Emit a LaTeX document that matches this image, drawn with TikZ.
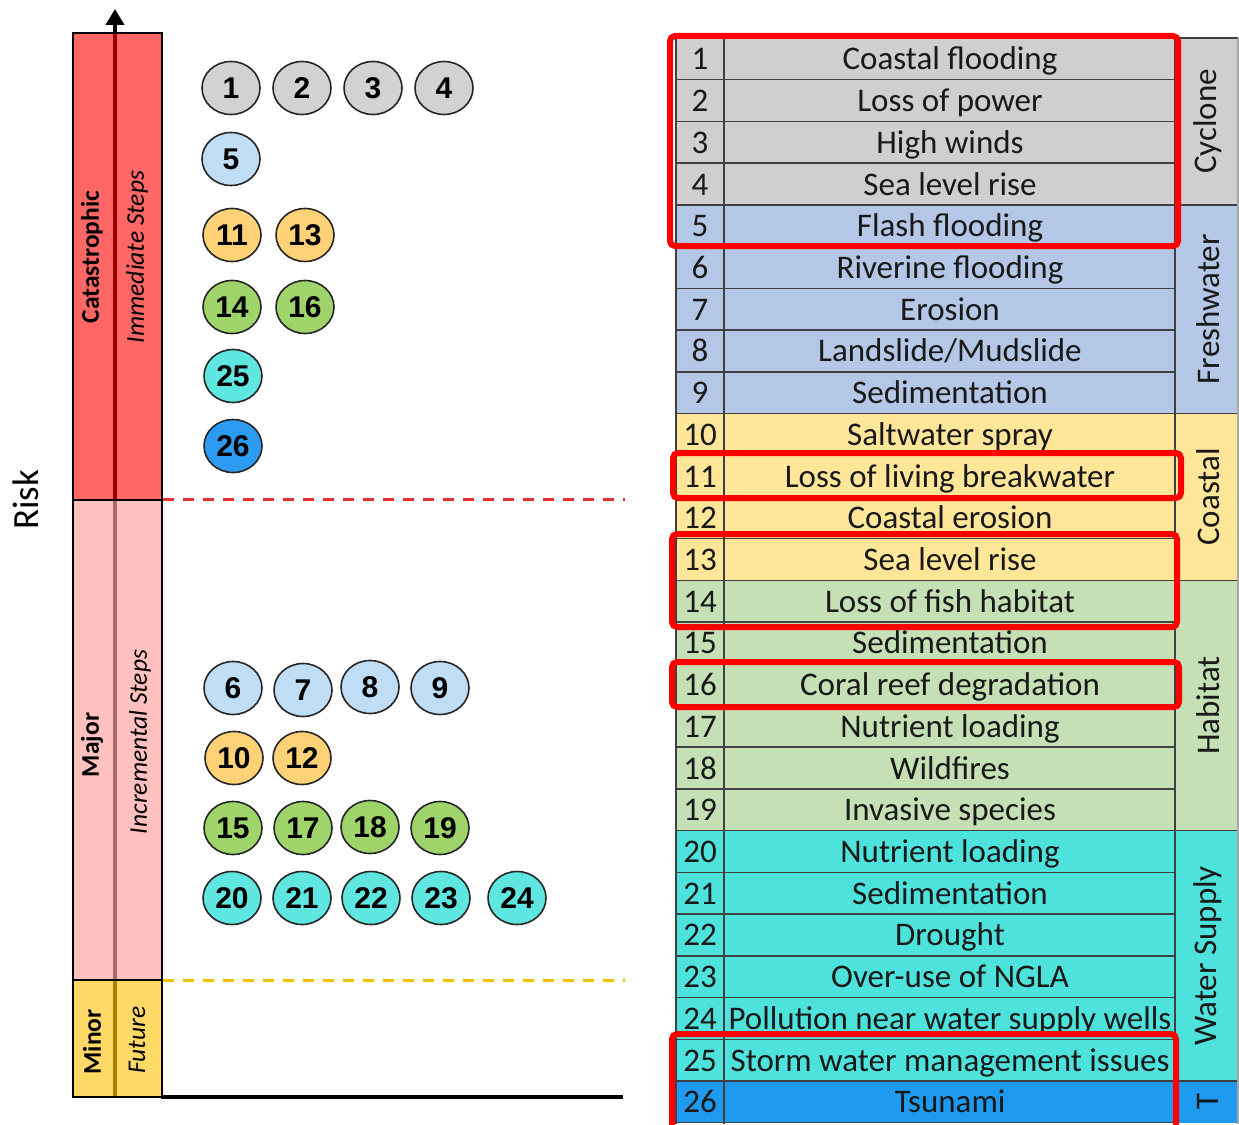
\documentclass[tikz,border=0pt]{standalone}
\usepackage{fontspec}
\setmainfont{Carlito}
\newfontfamily\arialfont{Liberation Sans}
\usetikzlibrary{arrows.meta,shapes.geometric}
\definecolor{cgray}{HTML}{D0CECE}
\definecolor{cblue}{HTML}{B4C7E7}
\definecolor{cyell}{HTML}{FFE699}
\definecolor{cgreen}{HTML}{C5E0B4}
\definecolor{ccyan}{HTML}{4EE2DC}
\definecolor{ctsu}{HTML}{1E9BF0}
\definecolor{kgray}{HTML}{D2D2D2}
\definecolor{kblue}{HTML}{BFDDF4}
\definecolor{korange}{HTML}{FFD278}
\definecolor{kgreen}{HTML}{9ED46A}
\definecolor{kcyan}{HTML}{60E6E0}
\definecolor{ktsu}{HTML}{2E9BF2}
\definecolor{barred}{HTML}{FF6666}
\definecolor{barpink}{HTML}{FFC0C0}
\definecolor{baryel}{HTML}{FFD966}
\definecolor{lred}{HTML}{9A0000}
\definecolor{lpink}{HTML}{A66A6A}
\definecolor{lyel}{HTML}{A38200}
\definecolor{dashred}{HTML}{E83030}
\definecolor{dashyel}{HTML}{F2C200}
\definecolor{hlred}{HTML}{FF0000}
\tikzset{
  risk/.style={ellipse, draw=black!85, line width=1.6, minimum width=58, minimum height=53, inner sep=0,
    font=\arialfont\bfseries\fontsize{30}{30}\selectfont},
  cell/.style={font=\fontsize{33}{33}\selectfont, inner sep=0, anchor=base, text=black!90},
  cat/.style={font=\fontsize{33}{33}\selectfont, rotate=90, inner sep=0, text=black!90},
  barlab/.style={font=\bfseries\fontsize{25.5}{25.5}\selectfont, rotate=90, inner sep=0},
  barit/.style={font=\itshape\fontsize{25.5}{25.5}\selectfont, rotate=90, inner sep=0},
  tline/.style={draw=black!75, line width=1.5},
  hl/.style={draw=hlred, line width=6, rounded corners=5},
}
\begin{document}
\begin{tikzpicture}[x=1pt,y=-1pt]
\useasboundingbox[fill=white] (0,0) rectangle (1239,1124);
% ---------- left bar ----------
\fill[barred] (73,33) rectangle (162,500);
\fill[barpink] (73,500) rectangle (162,980);
\fill[baryel] (73,980) rectangle (162,1097);
\draw[lred, line width=4] (115,33) -- (115,500);
\draw[lpink, line width=4] (115,500) -- (115,980);
\draw[lyel, line width=4] (115,980) -- (115,1097);
\coordinate (arrbase) at (115,33);
\coordinate (arrtip) at (115,9);
\draw[line width=4, -{Triangle[length=16,width=18]}] (arrbase) -- (arrtip);
\draw[black, line width=2] (73,33) rectangle (162,1097);
\draw[black, line width=2] (73,500) -- (162,500);
\draw[black, line width=2] (73,980) -- (162,980);
% axis
\coordinate (ax0) at (161,1097);
\coordinate (ax1) at (623,1097);
\draw[line width=4] (ax0) -- (ax1);
\coordinate (rd0) at (163,499);
\coordinate (rd1) at (625,499);
\draw[dashred, line width=3, dash pattern=on 11 off 9] (rd0) -- (rd1);
\coordinate (yd0) at (163,980);
\coordinate (yd1) at (625,980);
\draw[dashyel, line width=3, dash pattern=on 11 off 9] (yd0) -- (yd1);
% bar labels
\node[barlab] (lcat) at (92,257) {Catastrophic};
\node[barit] (limm) at (137,257) {Immediate Steps};
\node[barlab] (lmaj) at (92,745) {Major};
\node[barit] (linc) at (140,742) {Incremental Steps};
\node[barlab] (lmin) at (92,1042) {Minor};
\node[barit] (lfut) at (137,1040) {Future};
\node[font=\fontsize{37}{37}\selectfont, rotate=90, inner sep=0] (risk) at (26,500) {Risk};
% ---------- circles ----------
\node[risk, fill=kgray] (c1) at (231,88) {1};
\node[risk, fill=kgray] (c2) at (302,88) {2};
\node[risk, fill=kgray] (c3) at (373,88) {3};
\node[risk, fill=kgray] (c4) at (444,88) {4};
\node[risk, fill=kblue] (c5) at (231,159) {5};
\node[risk, fill=korange] (c11) at (232,235) {11};
\node[risk, fill=korange] (c13) at (305,235) {13};
\node[risk, fill=kgreen] (c14) at (232,307) {14};
\node[risk, fill=kgreen] (c16) at (305,307) {16};
\node[risk, fill=kcyan] (c25) at (233,376) {25};
\node[risk, fill=ktsu] (c26) at (233,446) {26};
\node[risk, fill=kblue] (c6) at (233,688) {6};
\node[risk, fill=kblue] (c7) at (303,690) {7};
\node[risk, fill=kblue] (c8) at (370,687) {8};
\node[risk, fill=kblue] (c9) at (440,688) {9};
\node[risk, fill=korange] (c10) at (234,758) {10};
\node[risk, fill=korange] (c12) at (302,758) {12};
\node[risk, fill=kgreen] (c15) at (233,828) {15};
\node[risk, fill=kgreen] (c17) at (303,828) {17};
\node[risk, fill=kgreen] (c18) at (370,827) {18};
\node[risk, fill=kgreen] (c19) at (440,828) {19};
\node[risk, fill=kcyan] (c20) at (232,898) {20};
\node[risk, fill=kcyan] (c21) at (302,898) {21};
\node[risk, fill=kcyan] (c22) at (371,898) {22};
\node[risk, fill=kcyan] (c23) at (441,898) {23};
\node[risk, fill=kcyan] (c24) at (517,898) {24};
% ---------- table ----------
\def\rh{41.72}
\foreach \i/\t/\c in {1/Coastal flooding/cgray, 2/Loss of power/cgray, 3/High winds/cgray, 4/Sea level rise/cgray,
  5/Flash flooding/cblue, 6/Riverine flooding/cblue, 7/Erosion/cblue, 8/Landslide\slash Mudslide/cblue, 9/Sedimentation/cblue,
  10/Saltwater spray/cyell, 11/Loss of living breakwater/cyell, 12/Coastal erosion/cyell, 13/Sea level rise/cyell,
  14/Loss of fish habitat/cgreen, 15/Sedimentation/cgreen, 16/Coral reef degradation/cgreen, 17/Nutrient loading/cgreen,
  18/Wildfires/cgreen, 19/Invasive species/cgreen,
  20/Nutrient loading/ccyan, 21/Sedimentation/ccyan, 22/Drought/ccyan, 23/Over-use of NGLA/ccyan,
  24/Pollution near water supply wells/ccyan, 25/Storm water management issues/ccyan, 26/Tsunami/ctsu} {
  \fill[\c] (676,{38+(\i-1)*\rh}) rectangle (1175,{38+\i*\rh});
  \node[cell] (n\i) at (700,{38+(\i-0.5)*\rh+11}) {\i};
  \node[cell] (t\i) at (950,{38+(\i-0.5)*\rh+11}) {\t};
}
% category column
\fill[cgray] (1175,38) rectangle (1238,{38+4*\rh});
\fill[cblue] (1175,{38+4*\rh}) rectangle (1238,{38+9*\rh});
\fill[cyell] (1175,{38+9*\rh}) rectangle (1238,{38+13*\rh});
\fill[cgreen] (1175,{38+13*\rh}) rectangle (1238,{38+19*\rh});
\fill[ccyan] (1175,{38+19*\rh}) rectangle (1238,{38+25*\rh});
\fill[ctsu] (1175,{38+25*\rh}) rectangle (1238,{38+26*\rh});
\node[cat] (g1) at (1208,{38+2*\rh}) {Cyclone};
\node[cat] (g2) at (1208,{38+6.5*\rh}) {Freshwater};
\node[cat] (g3) at (1208,{38+11*\rh}) {Coastal};
\node[cat] (g4) at (1208,{38+16*\rh}) {Habitat};
\node[cat] (g5) at (1208,{38+22*\rh}) {Water Supply};
\node[cat] (g6) at (1208,{38+25.5*\rh}) {T};
% grid lines
\foreach \i in {0,...,26} { \draw[tline] (676,{38+\i*\rh}) -- (1175,{38+\i*\rh}); }
\draw[tline] (676,38) -- (676,1124);
\draw[tline] (724,38) -- (724,1124);
\draw[tline] (1175,38) -- (1175,1124);
\foreach \i in {0,4,9,13,19,25} { \draw[tline] (1175,{38+\i*\rh}) -- (1238,{38+\i*\rh}); }
\draw[draw=black!35, line width=1.5] (1238,38) -- (1238,1124);
% highlight boxes
\draw[hl] (670,36) rectangle (1178,246);
\draw[hl] (673,453) rectangle (1181,498);
\draw[hl] (672,534) rectangle (1177,627);
\draw[hl] (672,662) rectangle (1179,707);
\draw[hl] (672,1034) rectangle (1176,1130);
\end{tikzpicture}
\end{document}
